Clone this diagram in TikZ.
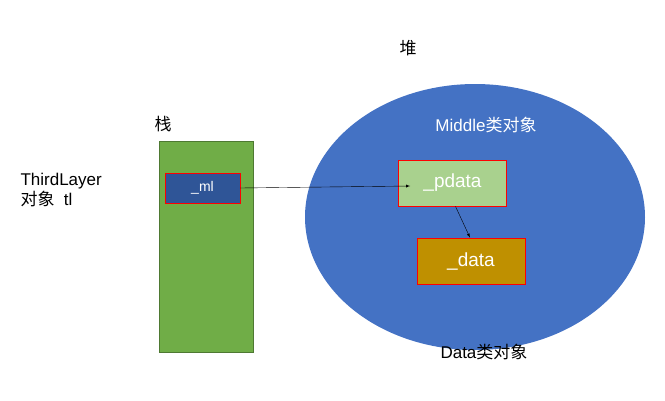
\documentclass[tikz,border=0pt]{standalone}
\usepackage{fontspec}
\setmainfont{Liberation Sans}
\newfontfamily\cjk{Noto Sans CJK SC}
\usetikzlibrary{positioning}
\definecolor{heapblue}{HTML}{4472C4}
\definecolor{stackgreen}{HTML}{70AD47}
\definecolor{mlblue}{HTML}{2F5597}
\definecolor{pgreen}{HTML}{A9D18E}
\definecolor{dyellow}{HTML}{BF9000}
\begin{document}
\begin{tikzpicture}[x=1pt,y=-1pt,font=\fontsize{17}{20}\selectfont,
  objbox/.style={draw=red,thick,minimum width=108pt,minimum height=46pt,text=white,font=\fontsize{19}{22}\selectfont},
  link/.style={-latex}]
\useasboundingbox (0,0) rectangle (665,400);

% stack and heap
\fill[stackgreen] (159,141) rectangle (253,352);
\draw[stackgreen!70!black] (159,141) rectangle (253,352);
\fill[heapblue] (475,217) ellipse (170 and 133);

% labels
\node (stack) at (163,124) {\cjk 栈};
\node (heap) at (408,48) {\cjk 堆};
\node[text=white] (middle) at (486,125) {Middle{\cjk 类对象}};
\node (dataobj) at (484,352) {Data{\cjk 类对象}};
\node[align=left,anchor=west] (tl) at (17,190) {ThirdLayer\\{\cjk 对象}\ \ tl};

% objects
\node[fill=mlblue,draw=red,minimum width=75pt,minimum height=30pt,text=white,font=\fontsize{14}{16}\selectfont] (ml) at (202.5,188) {\_ml};
\node[objbox,fill=pgreen] (pdata) at (452.5,183) {\_pdata};
\node[objbox,fill=dyellow] (data) at (471,261) {\_data};

% pointers
\draw[link] (ml.east) -- ([xshift=12pt,yshift=-3pt]pdata.west);
\draw[link] ([xshift=3pt]pdata.south) -- ([xshift=-1pt]data.north);
\end{tikzpicture}
\end{document}
